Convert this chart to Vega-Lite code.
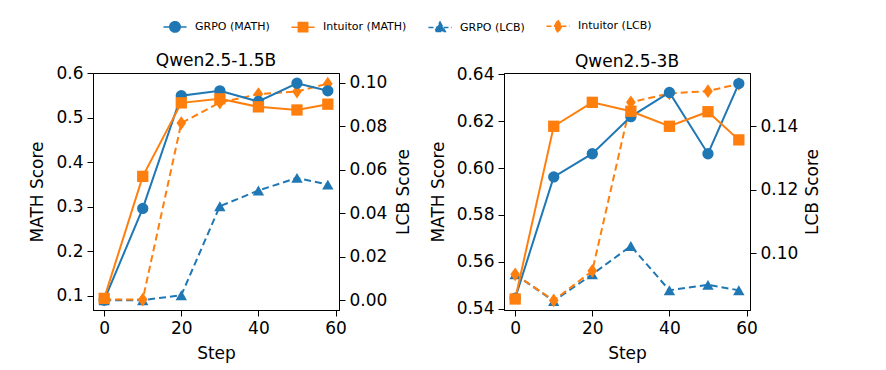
{
  "$schema": "https://vega.github.io/schema/vega-lite/v6.json",
  "padding": {"left": 28, "top": 20, "right": 5, "bottom": 5},
  "background": "white",
  "datasets": {
    "p1": [
      {"series": "GRPO (MATH)", "metric": "MATH", "step": 0, "value": 0.090},
      {"series": "GRPO (MATH)", "metric": "MATH", "step": 10, "value": 0.296},
      {"series": "GRPO (MATH)", "metric": "MATH", "step": 20, "value": 0.549},
      {"series": "GRPO (MATH)", "metric": "MATH", "step": 30, "value": 0.560},
      {"series": "GRPO (MATH)", "metric": "MATH", "step": 40, "value": 0.536},
      {"series": "GRPO (MATH)", "metric": "MATH", "step": 50, "value": 0.577},
      {"series": "GRPO (MATH)", "metric": "MATH", "step": 58, "value": 0.560},
      {"series": "Intuitor (MATH)", "metric": "MATH", "step": 0, "value": 0.094},
      {"series": "Intuitor (MATH)", "metric": "MATH", "step": 10, "value": 0.368},
      {"series": "Intuitor (MATH)", "metric": "MATH", "step": 20, "value": 0.533},
      {"series": "Intuitor (MATH)", "metric": "MATH", "step": 30, "value": 0.542},
      {"series": "Intuitor (MATH)", "metric": "MATH", "step": 40, "value": 0.524},
      {"series": "Intuitor (MATH)", "metric": "MATH", "step": 50, "value": 0.517},
      {"series": "Intuitor (MATH)", "metric": "MATH", "step": 58, "value": 0.530},
      {"series": "GRPO (LCB)", "metric": "LCB", "step": 0, "value": 0.0},
      {"series": "GRPO (LCB)", "metric": "LCB", "step": 10, "value": 0.0},
      {"series": "GRPO (LCB)", "metric": "LCB", "step": 20, "value": 0.0023},
      {"series": "GRPO (LCB)", "metric": "LCB", "step": 30, "value": 0.0432},
      {"series": "GRPO (LCB)", "metric": "LCB", "step": 40, "value": 0.0504},
      {"series": "GRPO (LCB)", "metric": "LCB", "step": 50, "value": 0.0562},
      {"series": "GRPO (LCB)", "metric": "LCB", "step": 58, "value": 0.0531},
      {"series": "Intuitor (LCB)", "metric": "LCB", "step": 0, "value": 0.0003},
      {"series": "Intuitor (LCB)", "metric": "LCB", "step": 10, "value": 0.0003},
      {"series": "Intuitor (LCB)", "metric": "LCB", "step": 20, "value": 0.0814},
      {"series": "Intuitor (LCB)", "metric": "LCB", "step": 30, "value": 0.0908},
      {"series": "Intuitor (LCB)", "metric": "LCB", "step": 40, "value": 0.0947},
      {"series": "Intuitor (LCB)", "metric": "LCB", "step": 50, "value": 0.0959},
      {"series": "Intuitor (LCB)", "metric": "LCB", "step": 58, "value": 0.0995}
    ],
    "p2": [
      {"series": "GRPO (MATH)", "metric": "MATH", "step": 0, "value": 0.5445},
      {"series": "GRPO (MATH)", "metric": "MATH", "step": 10, "value": 0.5962},
      {"series": "GRPO (MATH)", "metric": "MATH", "step": 20, "value": 0.6061},
      {"series": "GRPO (MATH)", "metric": "MATH", "step": 30, "value": 0.6219},
      {"series": "GRPO (MATH)", "metric": "MATH", "step": 40, "value": 0.6322},
      {"series": "GRPO (MATH)", "metric": "MATH", "step": 50, "value": 0.6061},
      {"series": "GRPO (MATH)", "metric": "MATH", "step": 58, "value": 0.636},
      {"series": "Intuitor (MATH)", "metric": "MATH", "step": 0, "value": 0.5442},
      {"series": "Intuitor (MATH)", "metric": "MATH", "step": 10, "value": 0.6178},
      {"series": "Intuitor (MATH)", "metric": "MATH", "step": 20, "value": 0.628},
      {"series": "Intuitor (MATH)", "metric": "MATH", "step": 30, "value": 0.6242},
      {"series": "Intuitor (MATH)", "metric": "MATH", "step": 40, "value": 0.6178},
      {"series": "Intuitor (MATH)", "metric": "MATH", "step": 50, "value": 0.624},
      {"series": "Intuitor (MATH)", "metric": "MATH", "step": 58, "value": 0.612},
      {"series": "GRPO (LCB)", "metric": "LCB", "step": 0, "value": 0.0934},
      {"series": "GRPO (LCB)", "metric": "LCB", "step": 10, "value": 0.085},
      {"series": "GRPO (LCB)", "metric": "LCB", "step": 20, "value": 0.0934},
      {"series": "GRPO (LCB)", "metric": "LCB", "step": 30, "value": 0.1023},
      {"series": "GRPO (LCB)", "metric": "LCB", "step": 40, "value": 0.0884},
      {"series": "GRPO (LCB)", "metric": "LCB", "step": 50, "value": 0.0901},
      {"series": "GRPO (LCB)", "metric": "LCB", "step": 58, "value": 0.0884},
      {"series": "Intuitor (LCB)", "metric": "LCB", "step": 0, "value": 0.0934},
      {"series": "Intuitor (LCB)", "metric": "LCB", "step": 10, "value": 0.0852},
      {"series": "Intuitor (LCB)", "metric": "LCB", "step": 20, "value": 0.0945},
      {"series": "Intuitor (LCB)", "metric": "LCB", "step": 30, "value": 0.1475},
      {"series": "Intuitor (LCB)", "metric": "LCB", "step": 40, "value": 0.1503},
      {"series": "Intuitor (LCB)", "metric": "LCB", "step": 50, "value": 0.151},
      {"series": "Intuitor (LCB)", "metric": "LCB", "step": 58, "value": 0.1533}
    ]
  },
  "hconcat": [
    {
      "width": 246, "height": 237,
      "title": "Qwen2.5-1.5B",
      "data": {"name": "p1"},
      "encoding": {
        "x": {"field": "step", "type": "quantitative", "scale": {"domain": [-2.9, 60.9], "nice": false, "zero": false}, "axis": {"values": [0, 20, 40, 60], "title": "Step"}}
      },
      "layer": [
        {
          "transform": [{"filter": "datum.metric == 'LCB'"}],
          "encoding": {
            "y": {"field": "value", "type": "quantitative", "scale": {"domain": [-0.0045, 0.1044], "nice": false, "zero": false}, "axis": {"orient": "right", "title": "LCB Score", "values": [0, 0.02, 0.04, 0.06, 0.08, 0.1], "format": ".2f", "titleAngle": -90, "titleBaseline": "top", "titlePadding": 9}}
          },
          "layer": [
            {"mark": {"type": "line", "strokeWidth": 2, "strokeDash": [7, 4]}, "encoding": {"color": {"field": "series", "type": "nominal", "title": null, "scale": {"domain": ["GRPO (MATH)", "Intuitor (MATH)", "GRPO (LCB)", "Intuitor (LCB)"], "range": ["#1f77b4", "#ff7f0e", "#1f77b4", "#ff7f0e"]}}}},
            {"transform": [{"filter": "datum.series == 'GRPO (LCB)'"}], "mark": {"type": "point", "shape": "triangle-up", "filled": true, "opacity": 1, "size": 130}, "encoding": {"color": {"field": "series", "type": "nominal", "title": null}}},
            {"transform": [{"filter": "datum.series == 'Intuitor (LCB)'"}], "mark": {"type": "point", "shape": "M0,-1L0.7,0L0,1L-0.7,0Z", "filled": true, "opacity": 1, "size": 190}, "encoding": {"color": {"field": "series", "type": "nominal", "title": null}}}
          ]
        },
        {
          "transform": [{"filter": "datum.metric == 'MATH'"}],
          "encoding": {
            "y": {"field": "value", "type": "quantitative", "scale": {"domain": [0.068, 0.6], "nice": false, "zero": false}, "axis": {"orient": "left", "title": "MATH Score", "values": [0.1, 0.2, 0.3, 0.4, 0.5, 0.6], "format": ".1f"}}
          },
          "layer": [
            {"mark": {"type": "line", "strokeWidth": 2}, "encoding": {"color": {"field": "series", "type": "nominal", "title": null}}},
            {"transform": [{"filter": "datum.series == 'GRPO (MATH)'"}], "mark": {"type": "point", "shape": "circle", "filled": true, "opacity": 1, "size": 128}, "encoding": {"color": {"field": "series", "type": "nominal", "title": null}}},
            {"transform": [{"filter": "datum.series == 'Intuitor (MATH)'"}], "mark": {"type": "point", "shape": "square", "filled": true, "opacity": 1, "size": 128}, "encoding": {"color": {"field": "series", "type": "nominal", "title": null}}},
            {
              "transform": [{"filter": "false"}],
              "mark": {"type": "point", "filled": true, "opacity": 1},
              "encoding": {
                "color": {"field": "series", "type": "nominal", "title": null},
                "stroke": {"field": "series", "type": "nominal", "title": null, "scale": {"domain": ["GRPO (MATH)", "Intuitor (MATH)", "GRPO (LCB)", "Intuitor (LCB)"], "range": ["#1f77b4", "#ff7f0e", "#1f77b4", "#ff7f0e"]}},
                "shape": {"field": "series", "type": "nominal", "title": null, "scale": {"domain": ["GRPO (MATH)", "Intuitor (MATH)", "GRPO (LCB)", "Intuitor (LCB)"], "range": ["M-2.2,0H2.2M-1,0A1,1 0 1,1 1,0A1,1 0 1,1 -1,0Z", "M-2.2,0H2.2M-0.9,-0.9H0.9V0.9H-0.9Z", "M-2.2,0H2.2M0,-1.05L1,0.75H-1Z", "M-2.2,0H2.2M0,-1.2L0.7,0L0,1.2L-0.7,0Z"]}},
                "strokeDash": {"field": "series", "type": "nominal", "title": null, "scale": {"domain": ["GRPO (MATH)", "Intuitor (MATH)", "GRPO (LCB)", "Intuitor (LCB)"], "range": [[1, 0], [1, 0], [5, 2.5], [5, 2.5]]}}
              }
            }
          ]
        }
      ],
      "resolve": {"scale": {"y": "independent"}}
    },
    {
      "width": 246, "height": 237,
      "title": "Qwen2.5-3B",
      "data": {"name": "p2"},
      "encoding": {
        "x": {"field": "step", "type": "quantitative", "scale": {"domain": [-2.9, 60.9], "nice": false, "zero": false}, "axis": {"values": [0, 20, 40, 60], "title": "Step"}}
      },
      "layer": [
        {
          "transform": [{"filter": "datum.metric == 'LCB'"}],
          "encoding": {
            "y": {"field": "value", "type": "quantitative", "scale": {"domain": [0.0822, 0.1567], "nice": false, "zero": false}, "axis": {"orient": "right", "title": "LCB Score", "values": [0.1, 0.12, 0.14], "format": ".2f", "titleAngle": -90, "titleBaseline": "top", "titlePadding": 7}}
          },
          "layer": [
            {"mark": {"type": "line", "strokeWidth": 2, "strokeDash": [7, 4]}, "encoding": {"color": {"field": "series", "type": "nominal", "title": null}}},
            {"transform": [{"filter": "datum.series == 'GRPO (LCB)'"}], "mark": {"type": "point", "shape": "triangle-up", "filled": true, "opacity": 1, "size": 130}, "encoding": {"color": {"field": "series", "type": "nominal", "title": null}}},
            {"transform": [{"filter": "datum.series == 'Intuitor (LCB)'"}], "mark": {"type": "point", "shape": "M0,-1L0.7,0L0,1L-0.7,0Z", "filled": true, "opacity": 1, "size": 190}, "encoding": {"color": {"field": "series", "type": "nominal", "title": null}}}
          ]
        },
        {
          "transform": [{"filter": "datum.metric == 'MATH'"}],
          "encoding": {
            "y": {"field": "value", "type": "quantitative", "scale": {"domain": [0.5395, 0.6405], "nice": false, "zero": false}, "axis": {"orient": "left", "title": "MATH Score", "values": [0.54, 0.56, 0.58, 0.6, 0.62, 0.64], "format": ".2f"}}
          },
          "layer": [
            {"mark": {"type": "line", "strokeWidth": 2}, "encoding": {"color": {"field": "series", "type": "nominal", "title": null}}},
            {"transform": [{"filter": "datum.series == 'GRPO (MATH)'"}], "mark": {"type": "point", "shape": "circle", "filled": true, "opacity": 1, "size": 128}, "encoding": {"color": {"field": "series", "type": "nominal", "title": null}}},
            {"transform": [{"filter": "datum.series == 'Intuitor (MATH)'"}], "mark": {"type": "point", "shape": "square", "filled": true, "opacity": 1, "size": 128}, "encoding": {"color": {"field": "series", "type": "nominal", "title": null}}}
          ]
        }
      ],
      "resolve": {"scale": {"y": "independent"}}
    }
  ],
  "spacing": 15,
  "config": {
    "font": "DejaVu Sans",
    "view": {"stroke": "black", "strokeWidth": 1},
    "axis": {"labelFontSize": 17, "titleFontSize": 17, "titleFontWeight": "normal", "labelColor": "black", "titleColor": "black", "domainColor": "black", "tickColor": "black", "tickSize": 6, "grid": false, "labelPadding": 4, "titlePadding": 9, "labelFlush": false, "labelFont": "DejaVu Sans", "titleFont": "DejaVu Sans"},
    "title": {"fontSize": 17, "fontWeight": "normal", "font": "DejaVu Sans", "offset": -6, "color": "black"},
    "legend": {"orient": "none", "legendX": 76, "legendY": -53, "direction": "horizontal", "gridAlign": "each", "labelFontSize": 11, "labelFont": "DejaVu Sans", "labelColor": "black", "symbolSize": 110, "symbolStrokeWidth": 1.5, "labelOffset": 14, "columnPadding": 18}
  }
}
